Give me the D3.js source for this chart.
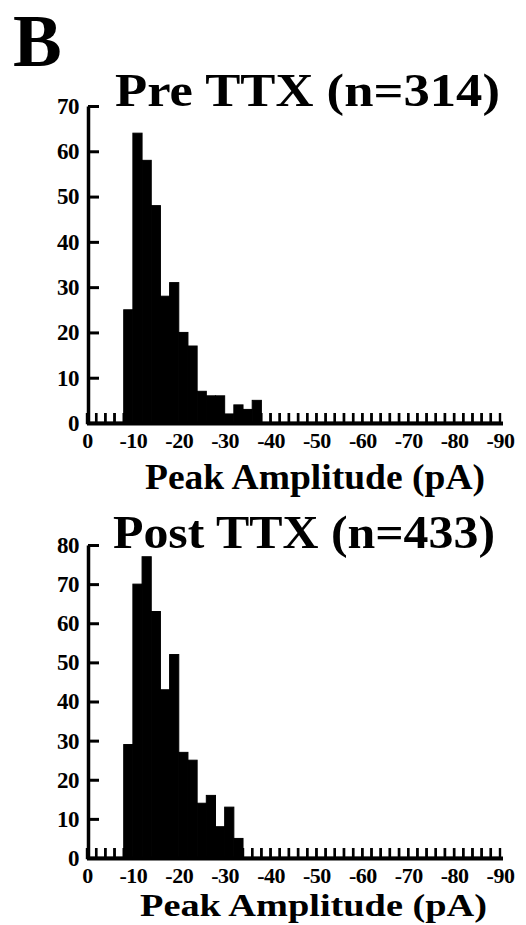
<!DOCTYPE html>
<html>
<head>
<meta charset="utf-8">
<script src="https://cdn.jsdelivr.net/npm/d3@7"></script>
<style>
body { margin: 0; background: #fff; }
text { font-family: "Liberation Serif", "DejaVu Serif", serif; font-weight: bold; fill: #000; }
</style>
</head>
<body>
<script>
// Canvas setup
const canvasWidth = 526;
const canvasHeight = 925;

// Data: 2 pA bins, lower edge of each bin (amplitude shown as negative)
const binLow = [0, 2, 4, 6, 8, 10, 12, 14, 16, 18, 20, 22, 24, 26, 28, 30, 32, 34, 36, 38,
    40, 42, 44, 46, 48, 50, 52, 54, 56, 58, 60, 62, 64, 66, 68, 70, 72, 74, 76, 78,
    80, 82, 84, 86, 88];
const binWidth = 2;

const preCounts = [0, 0, 0, 0, 25, 64, 58, 48, 28, 31, 20, 17, 7, 6, 6, 2, 4, 3, 5, 0,
    0, 0, 0, 0, 0, 0, 0, 0, 0, 0, 0, 0, 0, 0, 0, 0, 0, 0, 0, 0,
    0, 0, 0, 0, 0];
const postCounts = [0, 0, 0, 0, 29, 70, 77, 63, 43, 52, 27, 25, 14, 16, 8, 13, 5, 0, 0, 0,
    0, 0, 0, 0, 0, 0, 0, 0, 0, 0, 0, 0, 0, 0, 0, 0, 0, 0, 0, 0,
    0, 0, 0, 0, 0];

const xTicks = [0, 10, 20, 30, 40, 50, 60, 70, 80, 90];
const preYTicks = [0, 10, 20, 30, 40, 50, 60, 70];
const postYTicks = [0, 10, 20, 30, 40, 50, 60, 70, 80];

const svg = d3.select('body')
    .append('svg')
    .attr('width', canvasWidth)
    .attr('height', canvasHeight);

svg.append('text')
    .attr('x', 13)
    .attr('y', 66)
    .style('font-size', '73px')
    .text('B');

drawPlot({
    counts: preCounts,
    yTicks: preYTicks,
    yMax: 70,
    top: 106,
    bottom: 423,
    title: 'Pre TTX (n=314)',
    titleX: 115, titleY: 106, titleLen: 385,
    labelPad: 9,
    xLabelX: 145, xLabelY: 489, xLabelLen: 340, xLabelSize: 35
});

drawPlot({
    counts: postCounts,
    yTicks: postYTicks,
    yMax: 80,
    top: 545,
    bottom: 858,
    title: 'Post TTX (n=433)',
    titleX: 113, titleY: 548, titleLen: 382,
    labelPad: 9,
    xLabelX: 140, xLabelY: 916, xLabelLen: 347, xLabelSize: 32
});

function drawPlot(cfg) {
    let plotGroup = svg.append('g').classed('plot', true);

    let xScale = d3.scaleLinear()
        .domain([0, 90])
        .range([87, 500]);

    let yScale = d3.scaleLinear()
        .domain([0, cfg.yMax])
        .range([cfg.bottom, cfg.top]);

    let bins = binLow.map((b, i) => ({ low: b, count: cfg.counts[i] }));

    // filled bars
    plotGroup.selectAll('rect.bar')
        .data(bins.filter(d => d.count > 0))
        .enter()
        .append('rect')
        .attr('class', 'bar')
        .attr('x', d => xScale(d.low))
        .attr('width', d => xScale(d.low + binWidth) - xScale(d.low))
        .attr('y', d => yScale(d.count))
        .attr('height', d => yScale(0) - yScale(d.count))
        .attr('fill', '#000')
        .attr('stroke', '#000')
        .attr('stroke-width', 1);

    // empty bins drawn as open "u" outlines
    const toothH = 10;
    plotGroup.selectAll('path.empty')
        .data(bins.filter(d => d.count === 0))
        .enter()
        .append('path')
        .attr('class', 'empty')
        .attr('d', d => {
            let x0 = xScale(d.low), x1 = xScale(d.low + binWidth), y0 = yScale(0);
            return `M${x0},${y0 - toothH}V${y0}H${x1}V${y0 - toothH}`;
        })
        .attr('fill', 'none')
        .attr('stroke', '#000')
        .attr('stroke-width', 2.4);

    // baseline
    plotGroup.append('line')
        .attr('x1', xScale(0))
        .attr('x2', xScale(90) + 3)
        .attr('y1', yScale(0) + 0.5)
        .attr('y2', yScale(0) + 0.5)
        .attr('stroke', '#000')
        .attr('stroke-width', 4);

    // y axis, ticks point inward
    let yAxis = plotGroup.append('g')
        .attr('transform', `translate(${xScale(0) + 1},0)`)
        .call(d3.axisLeft(yScale)
            .tickValues(cfg.yTicks)
            .tickSizeInner(-11)
            .tickSizeOuter(0)
            .tickPadding(9));
    yAxis.select('.domain').attr('stroke-width', 3.5);
    yAxis.selectAll('.tick line').attr('stroke-width', 3);
    yAxis.selectAll('.tick text')
        .style('font-size', '23px')
        .style('font-family', '"Liberation Serif", serif')
        .style('font-weight', 'bold')
        .attr('letter-spacing', -0.5);

    // x axis labels only
    let xAxis = plotGroup.append('g')
        .attr('transform', `translate(0,${yScale(0)})`)
        .call(d3.axisBottom(xScale)
            .tickValues(xTicks)
            .tickSize(0)
            .tickPadding(cfg.labelPad)
            .tickFormat(d => d === 0 ? '0' : '-' + d));
    xAxis.select('.domain').remove();
    xAxis.selectAll('.tick text')
        .style('font-size', '22px')
        .style('font-family', '"Liberation Serif", serif')
        .style('font-weight', 'bold')
        .attr('letter-spacing', -0.5);

    // title
    plotGroup.append('text')
        .attr('x', cfg.titleX)
        .attr('y', cfg.titleY)
        .attr('textLength', cfg.titleLen)
        .attr('lengthAdjust', 'spacingAndGlyphs')
        .style('font-size', '47px')
        .text(cfg.title);

    // x label
    plotGroup.append('text')
        .attr('x', cfg.xLabelX)
        .attr('y', cfg.xLabelY)
        .attr('textLength', cfg.xLabelLen)
        .attr('lengthAdjust', 'spacingAndGlyphs')
        .style('font-size', cfg.xLabelSize + 'px')
        .text('Peak Amplitude (pA)');
}
</script>
</body>
</html>
